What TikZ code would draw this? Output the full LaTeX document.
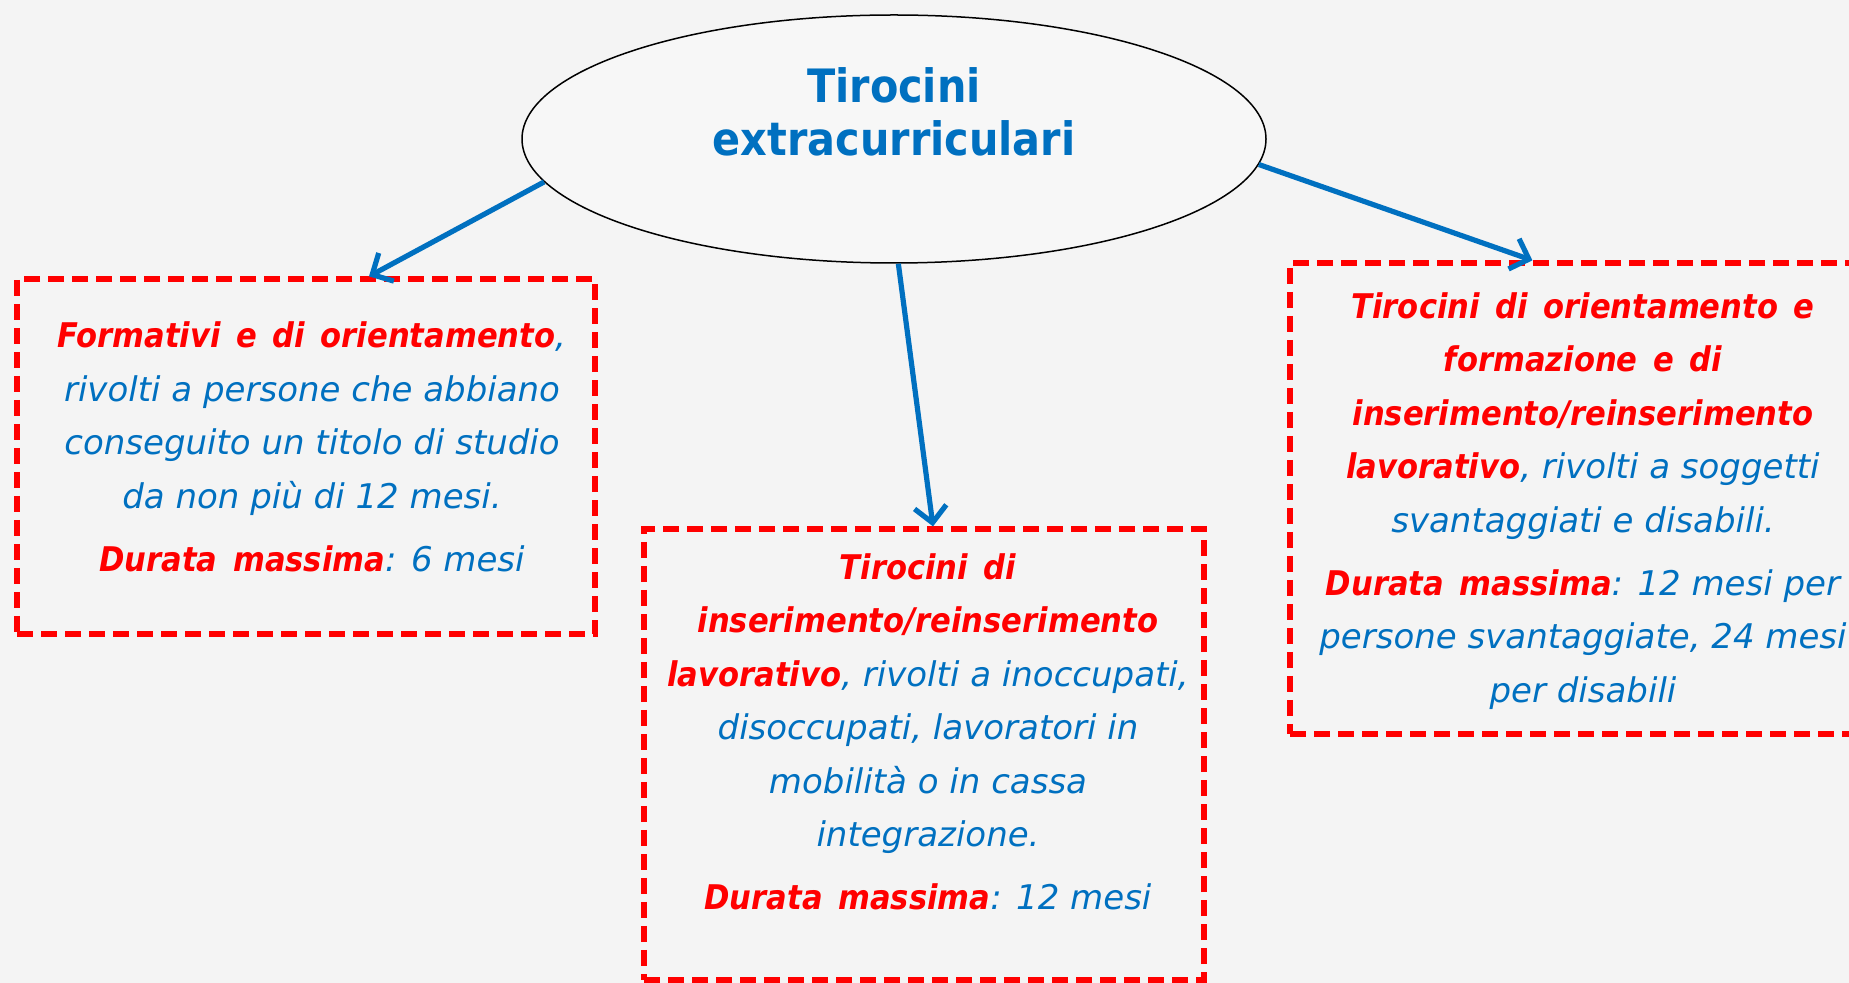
\documentclass[tikz,border=0pt]{standalone}
\usepackage{fontspec}
\setmainfont{DejaVu Sans}[BoldFeatures={FakeStretch=0.9},BoldItalicFeatures={FakeStretch=0.9}]
\usetikzlibrary{arrows.meta,shapes.geometric,calc}
\definecolor{tblue}{RGB}{0,112,192}
\definecolor{tred}{RGB}{255,0,0}
\definecolor{bgc}{RGB}{244,244,244}
\definecolor{ellfill}{RGB}{247,247,247}
\newcommand\rb[1]{{\color{tred}\bfseries\itshape\spaceskip=0.46em\relax #1}}
\tikzset{
  boxstyle/.style={draw=tred, line width=2.6pt, dash pattern=on 8pt off 4pt, rectangle, inner sep=0pt},
  txtstyle/.style={text=tblue, align=center, inner sep=0pt, font=\fontsize{17pt}{26.7pt}\selectfont\itshape},
  conn/.style={draw=tblue, line width=2.6pt, -{Straight Barb[length=8pt,width=16pt]}}
}
\begin{document}
\begin{tikzpicture}[x=0.5pt,y=-0.5pt]
\useasboundingbox (0,0) rectangle (1849,983);
\clip (0,0) rectangle (1849,983);
\fill[bgc] (0,0) rectangle (1849,983);
\node[ellipse, draw=black, line width=0.75pt, fill=ellfill, minimum width=372pt, minimum height=124pt, inner sep=0pt] (ell) at (894,139) {};
\node[text=tblue, align=center, inner sep=0pt, font=\fontsize{23pt}{26.5pt}\selectfont\bfseries] (title) at (894,112) {Tirocini\\extracurriculari};
\node[boxstyle, minimum width=289pt, minimum height=177.5pt] (lbox) at (306,456.5) {};
\node[boxstyle, minimum width=280pt, minimum height=225.5pt] (mbox) at (924,754.5) {};
\node[boxstyle, minimum width=295pt, minimum height=235.5pt] (rbox) at (1585,498.5) {};
\node[txtstyle] (ltxt) at (312,447) {\rb{Formativi e di orientamento},\\ rivolti a persone che abbiano\\ conseguito un titolo di studio\\ da non più di 12 mesi.\\[5pt] \rb{Durata massima}: 6 mesi};
\node[txtstyle] (mtxt) at (928,732) {\rb{Tirocini di}\\ \rb{inserimento/reinserimento}\\ \rb{lavorativo}, rivolti a inoccupati,\\ disoccupati, lavoratori in\\ mobilità o in cassa\\ integrazione.\\[5pt] \rb{Durata massima}: 12 mesi};
\node[txtstyle] (rtxt) at (1583,501) {\rb{Tirocini di orientamento e}\\ \rb{formazione e di}\\ \rb{inserimento/reinserimento}\\ \rb{lavorativo}, rivolti a soggetti\\ svantaggiati e disabili.\\[5pt] \rb{Durata massima}: 12 mesi per\\ persone svantaggiate, 24 mesi\\ per disabili};
\draw[conn] (ell.187.6) -- ($(lbox.north)+(63,0)$);
\draw[conn] (ell.272) -- ($(mbox.north)+(9,0)$);
\draw[conn] (ell.356) -- ($(rbox.north west)+(245,0)$);
\end{tikzpicture}
\end{document}
